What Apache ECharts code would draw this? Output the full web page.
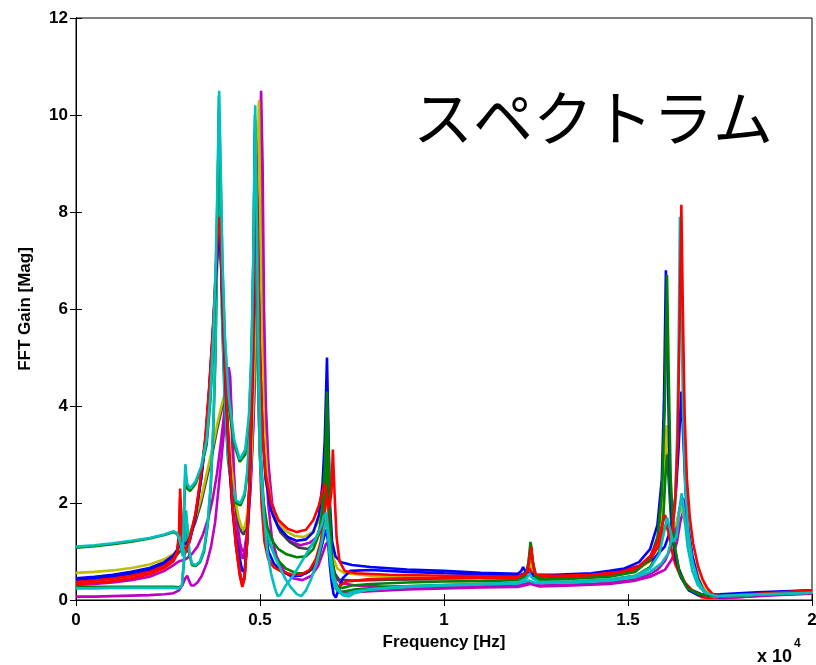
<!DOCTYPE html>
<html>
<head>
    <meta charset="utf-8">
    <script src="https://cdn.jsdelivr.net/npm/echarts@6/dist/echarts.min.js"></script>
    <style>
        html, body { margin: 0; padding: 0; background: #fff; overflow: hidden; }
        #main { width: 816px; height: 665px; }
    </style>
</head>
<body>
    <div id="main"></div>
    <script type="text/javascript">
        // frequency in units of 1e4 Hz, gain in Mag
        var xTicks = [0, 0.5, 1, 1.5, 2];
        var yTicks = [0, 2, 4, 6, 8, 10, 12];

        var cyan1 = [[0,1.1],[0.05,1.13],[0.1,1.17],[0.15,1.22],[0.2,1.28],[0.24,1.35],[0.265,1.42],[0.275,1.38],[0.283,1.2],[0.29,0.9],[0.294,2.0],[0.297,2.8],[0.302,2.4],[0.31,2.3],[0.325,2.45],[0.34,2.75],[0.355,3.3],[0.365,4.2],[0.373,5.4],[0.38,7.0],[0.385,8.8],[0.389,10.5],[0.393,9.0],[0.398,7.0],[0.405,5.4],[0.415,4.2],[0.43,3.3],[0.445,2.9],[0.46,3.1],[0.47,3.8],[0.477,5.2],[0.482,7.2],[0.487,10.2],[0.491,8.0],[0.496,5.0],[0.502,3.0],[0.51,1.8],[0.52,1.0],[0.53,0.55],[0.54,0.25],[0.548,0.08],[0.555,0.1],[0.57,0.3],[0.59,0.5],[0.61,0.75],[0.63,1.0],[0.65,1.25],[0.665,1.5],[0.675,1.75],[0.68,1.8],[0.686,1.4],[0.692,0.9],[0.7,0.5],[0.71,0.25],[0.725,0.1],[0.74,0.07],[0.76,0.15],[0.8,0.22],[0.9,0.28],[1.0,0.31],[1.1,0.33],[1.2,0.36],[1.225,0.45],[1.232,0.55],[1.24,0.45],[1.26,0.37],[1.35,0.38],[1.45,0.42],[1.52,0.5],[1.56,0.65],[1.585,0.95],[1.598,1.4],[1.606,1.7],[1.613,1.5],[1.622,1.2],[1.632,1.3],[1.642,2.0],[1.646,2.2],[1.652,1.8],[1.662,1.1],[1.675,0.6],[1.69,0.3],[1.71,0.15],[1.74,0.08],[1.8,0.1],[1.9,0.13],[2.0,0.15]];
        var green1 = [[0,1.08],[0.05,1.11],[0.1,1.15],[0.15,1.2],[0.2,1.27],[0.24,1.34],[0.265,1.4],[0.275,1.36],[0.283,1.2],[0.29,0.95],[0.294,1.9],[0.297,2.6],[0.302,2.3],[0.31,2.25],[0.325,2.4],[0.34,2.7],[0.355,3.2],[0.365,4.1],[0.373,5.2],[0.38,6.8],[0.385,8.5],[0.389,10.0],[0.393,8.7],[0.398,6.8],[0.405,5.2],[0.415,4.0],[0.43,3.2],[0.445,2.85],[0.46,3.0],[0.47,3.7],[0.477,5.0],[0.482,7.0],[0.487,9.9],[0.491,7.8],[0.496,4.8],[0.502,3.0],[0.51,2.0],[0.52,1.5],[0.535,1.2],[0.55,1.05],[0.57,0.95],[0.6,0.88],[0.625,0.9],[0.645,1.05],[0.66,1.35],[0.67,1.9],[0.677,2.9],[0.682,4.3],[0.686,3.2],[0.69,1.8],[0.695,0.9],[0.702,0.45],[0.712,0.25],[0.725,0.25],[0.75,0.3],[0.8,0.33],[0.9,0.36],[1.0,0.38],[1.1,0.39],[1.2,0.41],[1.222,0.5],[1.23,0.8],[1.235,1.2],[1.24,0.85],[1.248,0.5],[1.27,0.42],[1.35,0.44],[1.45,0.48],[1.52,0.58],[1.56,0.85],[1.58,1.3],[1.592,2.2],[1.6,4.0],[1.606,6.7],[1.611,4.5],[1.616,2.5],[1.625,1.2],[1.64,0.55],[1.66,0.25],[1.69,0.12],[1.75,0.08],[1.85,0.12],[2.0,0.17]];
        var blue1 = [[0,0.45],[0.05,0.48],[0.1,0.52],[0.15,0.58],[0.2,0.66],[0.24,0.78],[0.265,0.92],[0.28,1.1],[0.29,1.2],[0.3,1.15],[0.31,1.3],[0.325,1.75],[0.34,2.5],[0.352,3.3],[0.362,4.3],[0.372,5.5],[0.38,6.6],[0.386,7.4],[0.389,7.6],[0.393,7.2],[0.4,5.7],[0.408,4.1],[0.415,3.1],[0.425,1.95],[0.435,1.3],[0.445,0.85],[0.452,0.6],[0.458,0.6],[0.465,1.2],[0.472,2.5],[0.478,4.3],[0.484,7.2],[0.489,9.2],[0.494,7.4],[0.5,5.0],[0.507,3.4],[0.515,2.5],[0.53,1.85],[0.55,1.5],[0.575,1.3],[0.6,1.22],[0.625,1.25],[0.645,1.4],[0.66,1.75],[0.67,2.4],[0.676,3.3],[0.682,5.0],[0.686,3.5],[0.69,2.0],[0.696,1.2],[0.705,0.9],[0.72,0.78],[0.75,0.72],[0.8,0.68],[0.9,0.63],[1.0,0.6],[1.1,0.56],[1.2,0.54],[1.21,0.6],[1.215,0.68],[1.222,0.58],[1.24,0.52],[1.3,0.52],[1.4,0.55],[1.45,0.6],[1.49,0.65],[1.53,0.78],[1.56,1.05],[1.58,1.55],[1.592,2.5],[1.598,4.2],[1.603,6.8],[1.608,4.8],[1.613,2.8],[1.62,1.5],[1.63,0.85],[1.645,0.45],[1.665,0.2],[1.69,0.1],[1.75,0.12],[1.85,0.16],[2.0,0.2]];
        var red1 = [[0,0.37],[0.05,0.4],[0.1,0.44],[0.15,0.5],[0.2,0.58],[0.24,0.7],[0.265,0.85],[0.275,1.0],[0.28,1.4],[0.283,2.3],[0.287,1.5],[0.292,1.1],[0.3,1.05],[0.31,1.3],[0.325,1.8],[0.34,2.6],[0.352,3.4],[0.362,4.4],[0.372,5.6],[0.38,6.8],[0.386,7.7],[0.389,7.9],[0.393,7.4],[0.4,5.8],[0.408,4.2],[0.415,3.2],[0.425,2.0],[0.435,1.2],[0.445,0.6],[0.452,0.3],[0.458,0.45],[0.465,1.2],[0.472,2.6],[0.478,4.5],[0.484,7.5],[0.489,9.5],[0.494,7.5],[0.5,5.0],[0.507,3.4],[0.515,2.6],[0.53,2.0],[0.55,1.65],[0.575,1.47],[0.6,1.4],[0.625,1.45],[0.645,1.65],[0.66,1.95],[0.67,2.25],[0.676,2.4],[0.682,2.1],[0.688,1.9],[0.694,2.2],[0.698,3.1],[0.702,2.3],[0.708,1.3],[0.716,0.8],[0.73,0.6],[0.76,0.55],[0.85,0.52],[1.0,0.5],[1.1,0.49],[1.2,0.48],[1.225,0.55],[1.232,0.8],[1.237,1.1],[1.242,0.75],[1.25,0.52],[1.3,0.5],[1.4,0.52],[1.48,0.58],[1.53,0.7],[1.56,0.9],[1.58,1.2],[1.593,1.55],[1.6,1.75],[1.606,1.65],[1.612,1.35],[1.62,1.4],[1.628,2.0],[1.635,3.3],[1.64,5.5],[1.645,8.15],[1.649,6.0],[1.654,3.8],[1.66,2.5],[1.668,1.7],[1.677,1.17],[1.69,0.7],[1.703,0.42],[1.715,0.25],[1.73,0.12],[1.75,0.07],[1.8,0.1],[1.9,0.15],[2.0,0.2]];
        var magenta1 = [[0,0.31],[0.05,0.33],[0.1,0.36],[0.15,0.41],[0.2,0.48],[0.24,0.6],[0.265,0.72],[0.28,0.8],[0.29,0.82],[0.3,0.85],[0.315,0.95],[0.33,1.1],[0.345,1.35],[0.36,1.7],[0.372,2.1],[0.383,2.6],[0.393,3.2],[0.402,3.8],[0.41,4.4],[0.415,4.8],[0.419,4.6],[0.424,3.6],[0.43,2.5],[0.437,1.7],[0.445,1.2],[0.452,1.0],[0.458,1.05],[0.465,1.4],[0.473,2.2],[0.481,3.5],[0.488,5.2],[0.494,7.5],[0.499,9.5],[0.503,10.5],[0.507,9.0],[0.511,6.0],[0.516,4.0],[0.523,2.8],[0.533,2.0],[0.548,1.6],[0.565,1.35],[0.585,1.2],[0.61,1.13],[0.635,1.18],[0.655,1.3],[0.668,1.45],[0.676,1.6],[0.684,1.5],[0.69,1.1],[0.697,0.7],[0.707,0.45],[0.72,0.35],[0.76,0.3],[0.85,0.27],[1.0,0.27],[1.1,0.28],[1.2,0.3],[1.235,0.36],[1.26,0.3],[1.4,0.33],[1.5,0.4],[1.55,0.5],[1.58,0.62],[1.6,0.8],[1.615,1.05],[1.628,1.4],[1.638,1.8],[1.645,2.05],[1.65,2.1],[1.656,1.9],[1.664,1.4],[1.675,0.9],[1.69,0.45],[1.705,0.2],[1.72,0.07],[1.76,0.04],[1.8,0.06],[1.9,0.11],[2.0,0.14]];
        var yellow1 = [[0,0.56],[0.05,0.58],[0.1,0.61],[0.15,0.66],[0.2,0.73],[0.24,0.84],[0.265,0.95],[0.28,1.05],[0.295,1.2],[0.31,1.4],[0.325,1.7],[0.34,2.1],[0.355,2.6],[0.37,3.1],[0.383,3.6],[0.395,4.0],[0.402,4.2],[0.408,4.0],[0.415,3.4],[0.423,2.7],[0.432,2.1],[0.442,1.7],[0.45,1.5],[0.456,1.45],[0.463,1.65],[0.47,2.1],[0.477,3.0],[0.484,4.6],[0.49,7.0],[0.494,9.0],[0.497,10.3],[0.5,8.5],[0.505,5.5],[0.511,3.6],[0.52,2.5],[0.532,1.9],[0.55,1.6],[0.57,1.42],[0.595,1.32],[0.62,1.3],[0.642,1.4],[0.658,1.6],[0.67,1.9],[0.678,2.2],[0.685,1.9],[0.692,1.3],[0.7,0.85],[0.71,0.65],[0.73,0.55],[0.8,0.5],[0.9,0.47],[1.0,0.45],[1.1,0.44],[1.2,0.43],[1.228,0.55],[1.235,0.8],[1.242,0.55],[1.26,0.45],[1.35,0.46],[1.45,0.5],[1.52,0.6],[1.56,0.8],[1.58,1.1],[1.592,1.6],[1.6,2.6],[1.605,3.6],[1.61,3.0],[1.617,2.0],[1.625,1.5],[1.633,1.6],[1.64,1.85],[1.646,1.9],[1.652,1.7],[1.66,1.4],[1.67,1.0],[1.682,0.7],[1.695,0.4],[1.71,0.2],[1.73,0.1],[1.8,0.1],[1.9,0.13],[2.0,0.16]];
        var dark1 = [[0,0.4],[0.05,0.43],[0.1,0.47],[0.15,0.53],[0.2,0.61],[0.24,0.74],[0.265,0.87],[0.28,0.98],[0.295,1.12],[0.31,1.32],[0.325,1.62],[0.34,2.0],[0.355,2.5],[0.37,3.0],[0.383,3.5],[0.395,3.9],[0.402,4.1],[0.408,3.9],[0.415,3.3],[0.423,2.6],[0.432,2.0],[0.442,1.6],[0.45,1.4],[0.456,1.35],[0.463,1.55],[0.47,2.0],[0.477,2.9],[0.484,4.5],[0.49,6.8],[0.494,8.8],[0.497,9.8],[0.5,8.2],[0.505,5.3],[0.511,3.5],[0.52,2.4],[0.535,1.75],[0.555,1.4],[0.58,1.2],[0.605,1.08],[0.63,1.05],[0.65,1.2],[0.663,1.5],[0.671,2.0],[0.677,2.7],[0.682,2.3],[0.688,1.5],[0.695,0.9],[0.703,0.55],[0.715,0.42],[0.75,0.4],[0.85,0.42],[1.0,0.43],[1.1,0.43],[1.2,0.44],[1.228,0.55],[1.233,0.75],[1.24,0.55],[1.26,0.45],[1.35,0.46],[1.45,0.5],[1.52,0.6],[1.56,0.82],[1.58,1.15],[1.592,1.8],[1.6,2.8],[1.605,3.5],[1.61,2.9],[1.617,1.9],[1.626,1.1],[1.638,0.65],[1.655,0.35],[1.675,0.2],[1.7,0.12],[1.75,0.1],[1.85,0.13],[2.0,0.17]];
        var blue2 = [[0,0.42],[0.05,0.45],[0.1,0.49],[0.15,0.55],[0.2,0.63],[0.24,0.76],[0.265,0.9],[0.275,1.0],[0.28,1.3],[0.284,1.9],[0.288,1.4],[0.293,1.05],[0.3,1.0],[0.31,1.25],[0.325,1.75],[0.34,2.5],[0.352,3.3],[0.362,4.3],[0.372,5.5],[0.38,6.6],[0.386,7.5],[0.389,7.7],[0.393,7.2],[0.4,5.6],[0.408,4.0],[0.415,3.0],[0.425,1.9],[0.435,1.1],[0.445,0.55],[0.452,0.32],[0.458,0.5],[0.465,1.2],[0.472,2.5],[0.478,4.2],[0.485,6.5],[0.489,8.0],[0.493,6.5],[0.498,4.0],[0.504,2.4],[0.512,1.5],[0.523,1.0],[0.538,0.75],[0.56,0.58],[0.585,0.5],[0.61,0.5],[0.635,0.6],[0.652,0.8],[0.665,1.05],[0.674,1.3],[0.68,1.45],[0.685,1.2],[0.69,0.7],[0.695,0.35],[0.7,0.12],[0.706,0.05],[0.713,0.2],[0.725,0.45],[0.745,0.6],[0.8,0.62],[0.9,0.58],[1.0,0.55],[1.1,0.53],[1.2,0.5],[1.22,0.55],[1.24,0.5],[1.3,0.5],[1.4,0.53],[1.48,0.6],[1.53,0.7],[1.57,0.85],[1.6,1.1],[1.618,1.5],[1.63,2.2],[1.638,3.2],[1.645,4.3],[1.65,3.4],[1.656,2.3],[1.664,1.5],[1.675,0.9],[1.69,0.45],[1.705,0.2],[1.72,0.08],[1.75,0.06],[1.8,0.1],[1.9,0.15],[2.0,0.19]];
        var red2 = [[0,0.33],[0.05,0.35],[0.1,0.39],[0.15,0.45],[0.2,0.53],[0.24,0.66],[0.265,0.8],[0.275,0.95],[0.28,1.3],[0.283,2.1],[0.287,1.4],[0.292,1.0],[0.3,0.98],[0.31,1.25],[0.325,1.75],[0.34,2.55],[0.352,3.35],[0.362,4.35],[0.372,5.55],[0.38,6.7],[0.386,7.6],[0.389,7.8],[0.393,7.3],[0.4,5.7],[0.408,4.1],[0.415,3.1],[0.425,1.9],[0.435,1.1],[0.445,0.5],[0.452,0.27],[0.458,0.45],[0.465,1.2],[0.472,2.4],[0.478,4.0],[0.485,6.0],[0.489,7.5],[0.493,6.0],[0.498,3.5],[0.504,2.0],[0.512,1.2],[0.522,0.85],[0.537,0.68],[0.56,0.58],[0.585,0.53],[0.61,0.52],[0.635,0.62],[0.652,0.85],[0.665,1.2],[0.674,1.7],[0.68,2.1],[0.684,2.2],[0.688,1.6],[0.693,0.9],[0.7,0.45],[0.707,0.28],[0.718,0.3],[0.735,0.38],[0.8,0.43],[0.9,0.45],[1.0,0.45],[1.1,0.46],[1.2,0.46],[1.225,0.55],[1.232,0.65],[1.24,0.55],[1.26,0.47],[1.35,0.48],[1.45,0.52],[1.52,0.62],[1.56,0.82],[1.582,1.1],[1.595,1.4],[1.603,1.55],[1.61,1.4],[1.618,1.05],[1.628,0.75],[1.642,0.5],[1.66,0.3],[1.68,0.15],[1.7,0.06],[1.72,0.04],[1.75,0.07],[1.85,0.14],[2.0,0.2]];
        var green2 = [[0,0.27],[0.05,0.27],[0.1,0.27],[0.15,0.27],[0.2,0.27],[0.24,0.27],[0.265,0.27],[0.28,0.26],[0.288,0.3],[0.294,0.85],[0.299,1.75],[0.303,1.4],[0.308,0.95],[0.315,0.72],[0.325,0.7],[0.337,0.78],[0.348,1.0],[0.358,1.55],[0.366,2.3],[0.373,3.5],[0.379,5.0],[0.384,7.3],[0.388,10.1],[0.392,8.3],[0.397,5.8],[0.404,4.1],[0.413,2.9],[0.423,2.3],[0.435,2.0],[0.447,1.95],[0.458,2.15],[0.466,2.6],[0.472,3.5],[0.478,5.0],[0.483,7.3],[0.486,9.7],[0.49,7.3],[0.495,4.4],[0.5,3.0],[0.507,2.2],[0.515,1.6],[0.527,1.15],[0.545,0.85],[0.57,0.65],[0.6,0.55],[0.625,0.55],[0.645,0.65],[0.66,0.85],[0.67,1.2],[0.677,2.0],[0.682,3.3],[0.686,2.4],[0.691,1.2],[0.697,0.55],[0.705,0.25],[0.715,0.15],[0.73,0.18],[0.76,0.22],[0.85,0.27],[1.0,0.31],[1.1,0.33],[1.2,0.35],[1.225,0.5],[1.231,0.85],[1.236,1.15],[1.241,0.8],[1.248,0.45],[1.27,0.37],[1.35,0.38],[1.45,0.42],[1.52,0.5],[1.56,0.68],[1.585,1.0],[1.596,1.7],[1.602,2.6],[1.606,3.0],[1.611,2.4],[1.618,1.5],[1.628,0.9],[1.642,0.5],[1.662,0.25],[1.69,0.12],[1.75,0.07],[1.85,0.11],[2.0,0.16]];
        var cyan2 = [[0,0.24],[0.05,0.24],[0.1,0.25],[0.15,0.25],[0.2,0.25],[0.24,0.25],[0.265,0.25],[0.28,0.24],[0.288,0.3],[0.294,0.9],[0.299,1.85],[0.303,1.5],[0.308,1.0],[0.315,0.75],[0.325,0.72],[0.337,0.8],[0.348,1.05],[0.358,1.6],[0.366,2.4],[0.373,3.6],[0.379,5.2],[0.384,7.5],[0.388,10.4],[0.392,8.5],[0.397,6.0],[0.404,4.2],[0.413,3.0],[0.423,2.4],[0.435,2.05],[0.447,2.0],[0.458,2.2],[0.466,2.7],[0.472,3.6],[0.478,5.2],[0.483,7.5],[0.486,10.0],[0.49,7.5],[0.495,4.5],[0.5,2.9],[0.507,2.1],[0.515,1.6],[0.527,1.2],[0.54,0.9],[0.555,0.65],[0.57,0.42],[0.585,0.25],[0.6,0.12],[0.612,0.08],[0.625,0.2],[0.64,0.45],[0.655,0.8],[0.668,1.2],[0.676,1.55],[0.68,1.65],[0.685,1.3],[0.69,0.85],[0.697,0.45],[0.705,0.25],[0.72,0.13],[0.735,0.12],[0.76,0.18],[0.8,0.22],[0.9,0.27],[1.0,0.3],[1.1,0.32],[1.2,0.34],[1.23,0.4],[1.25,0.35],[1.35,0.36],[1.45,0.4],[1.52,0.47],[1.56,0.58],[1.59,0.75],[1.608,0.95],[1.62,1.3],[1.628,2.0],[1.634,3.5],[1.638,5.5],[1.641,7.9],[1.645,6.0],[1.65,3.8],[1.656,2.3],[1.664,1.4],[1.675,0.8],[1.69,0.4],[1.705,0.2],[1.725,0.08],[1.76,0.07],[1.85,0.11],[2.0,0.15]];
        var magenta2 = [[0,0.07],[0.05,0.07],[0.1,0.08],[0.15,0.09],[0.2,0.1],[0.24,0.12],[0.265,0.14],[0.28,0.2],[0.29,0.32],[0.297,0.45],[0.302,0.5],[0.307,0.4],[0.313,0.3],[0.32,0.3],[0.33,0.36],[0.342,0.5],[0.355,0.75],[0.367,1.1],[0.378,1.6],[0.39,2.5],[0.4,3.3],[0.408,4.0],[0.413,4.5],[0.417,4.6],[0.421,4.0],[0.426,3.0],[0.432,2.1],[0.44,1.4],[0.447,1.0],[0.453,0.85],[0.46,1.05],[0.467,1.5],[0.475,2.4],[0.483,3.8],[0.49,6.0],[0.495,8.5],[0.5,10.3],[0.504,8.5],[0.509,5.5],[0.515,3.3],[0.522,2.0],[0.532,1.3],[0.545,0.9],[0.565,0.6],[0.59,0.45],[0.615,0.41],[0.64,0.5],[0.658,0.7],[0.67,0.95],[0.679,1.15],[0.686,1.2],[0.692,0.9],[0.698,0.55],[0.706,0.3],[0.718,0.18],[0.74,0.15],[0.8,0.18],[0.9,0.22],[1.0,0.24],[1.1,0.26],[1.2,0.27],[1.235,0.33],[1.26,0.28],[1.35,0.3],[1.45,0.33],[1.52,0.4],[1.56,0.48],[1.6,0.62],[1.62,0.85],[1.633,1.2],[1.642,1.6],[1.65,1.85],[1.656,1.7],[1.664,1.3],[1.675,0.85],[1.69,0.45],[1.705,0.2],[1.725,0.07],[1.76,0.04],[1.8,0.06],[1.9,0.1],[2.0,0.13]];

        // MATLAB default line colours, drawing order (later on top)
        var lines = [
            { data: magenta2, color: '#bf00bf' },
            { data: magenta1, color: '#bf00bf' },
            { data: dark1, color: '#404040' },
            { data: yellow1, color: '#bfbf00' },
            { data: green2, color: '#008000' },
            { data: blue2, color: '#0000ff' },
            { data: red2, color: '#ff0000' },
            { data: cyan2, color: '#00bfbf' },
            { data: blue1, color: '#0000ff' },
            { data: green1, color: '#008000' },
            { data: red1, color: '#ff0000' },
            { data: cyan1, color: '#00bfbf' }
        ];

        var seriesList = lines.map(function (l) {
            return {
                type: 'line',
                data: l.data,
                showSymbol: false,
                smooth: false,
                animation: false,
                lineStyle: { color: l.color, width: 2.6 },
                itemStyle: { color: l.color }
            };
        });

        var labelFont = { color: '#000', fontSize: 17, fontWeight: 'bold', fontFamily: 'Liberation Sans, Arial, sans-serif' };

        var myChart = echarts.init(document.getElementById('main'));
        myChart.setOption({
            backgroundColor: '#fff',
            animation: false,
            grid: { left: 76, right: 4, top: 18, bottom: 65, show: true, borderColor: '#000', borderWidth: 1, outerBoundsMode: 'none', containLabel: false },
            xAxis: [{
                type: 'value', min: xTicks[0], max: xTicks[xTicks.length - 1], interval: 0.5,
                name: 'Frequency [Hz]', nameLocation: 'middle', nameGap: 34,
                nameTextStyle: labelFont,
                axisLine: { lineStyle: { color: '#000' } },
                axisTick: { inside: true, length: 6, lineStyle: { color: '#000' } },
                axisLabel: Object.assign({ margin: 12 }, labelFont),
                splitLine: { show: false }
            }, {
                type: 'value', position: 'top', min: 0, max: 2, interval: 0.5,
                axisLine: { lineStyle: { color: '#000' } },
                axisTick: { inside: true, length: 6, lineStyle: { color: '#000' } },
                axisLabel: { show: false }, splitLine: { show: false }
            }],
            yAxis: [{
                type: 'value', min: yTicks[0], max: yTicks[yTicks.length - 1], interval: 2,
                name: 'FFT Gain [Mag]', nameLocation: 'middle', nameGap: 42,
                nameTextStyle: labelFont,
                axisLine: { lineStyle: { color: '#000' } },
                axisTick: { inside: true, length: 6, lineStyle: { color: '#000' } },
                axisLabel: Object.assign({ margin: 8 }, labelFont),
                splitLine: { show: false }
            }, {
                type: 'value', position: 'right', min: 0, max: 12, interval: 2,
                axisLine: { lineStyle: { color: '#000' } },
                axisTick: { inside: true, length: 6, lineStyle: { color: '#000' } },
                axisLabel: { show: false }, splitLine: { show: false }
            }],
            graphic: [{
                type: 'text', left: 413, top: 88,
                style: { text: 'スペクトラム', fontSize: 60, fill: '#000', fontFamily: 'Noto Sans CJK JP, sans-serif' }
            }, {
                type: 'text', left: 757, top: 638,
                style: {
                    text: '{b|x 10}{s|4}',
                    rich: {
                        b: { fontSize: 18, fontWeight: 'bold', fill: '#000', fontFamily: 'Liberation Sans, Arial, sans-serif', padding: [10, 0, 0, 0] },
                        s: { fontSize: 12, fontWeight: 'bold', fill: '#000', fontFamily: 'Liberation Sans, Arial, sans-serif', verticalAlign: 'top', padding: [0, 0, 0, 2] }
                    }
                }
            }],
            series: seriesList
        });
    </script>
</body>
</html>
